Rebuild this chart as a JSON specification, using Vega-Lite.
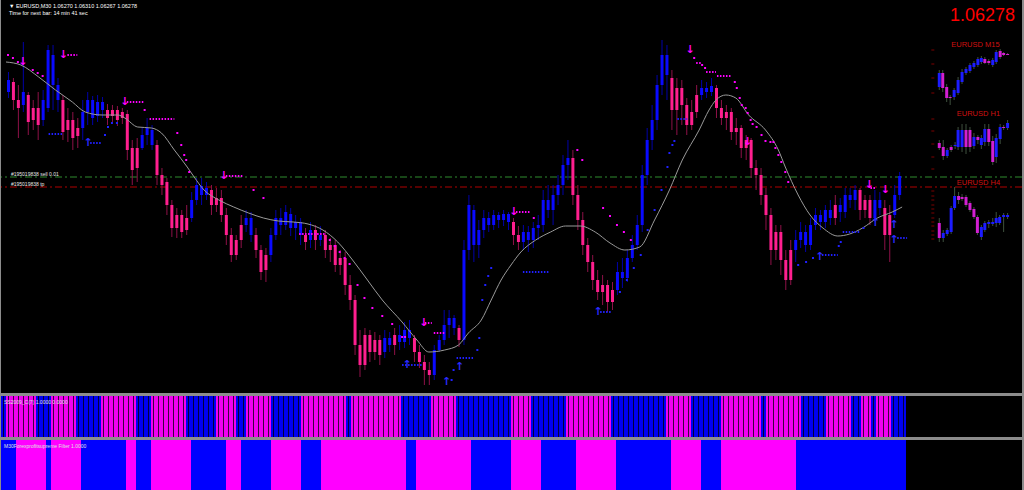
{
"$schema": "https://vega.github.io/schema/vega-lite/v6.json",
"background": "#8c8c8c",
"padding": {"left": 0, "top": 0, "right": 3, "bottom": 2},
"spacing": 2,
"config": {"view": {"stroke": null, "fill": "#000000"}, "font": "Liberation Sans"},
"resolve": {"scale": {"x": "independent", "y": "independent"}},
"datasets": {
"candles": [
{"n":0,"o":1.0712,"h":1.0732,"l":1.0706,"c":1.0724,"t":"u"},
{"n":1,"o":1.0722,"h":1.0726,"l":1.0694,"c":1.0704,"t":"d"},
{"n":2,"o":1.0704,"h":1.0719,"l":1.0666,"c":1.0696,"t":"d"},
{"n":3,"o":1.0699,"h":1.0762,"l":1.0692,"c":1.0712,"t":"u"},
{"n":4,"o":1.0709,"h":1.0712,"l":1.0669,"c":1.0682,"t":"d"},
{"n":5,"o":1.0684,"h":1.0704,"l":1.0674,"c":1.0696,"t":"d"},
{"n":6,"o":1.0696,"h":1.0712,"l":1.0664,"c":1.0679,"t":"d"},
{"n":7,"o":1.0684,"h":1.0714,"l":1.0678,"c":1.0704,"t":"u"},
{"n":8,"o":1.0696,"h":1.0759,"l":1.0692,"c":1.0754,"t":"u"},
{"n":9,"o":1.0749,"h":1.0759,"l":1.0694,"c":1.0719,"t":"u"},
{"n":10,"o":1.0719,"h":1.0726,"l":1.0692,"c":1.0704,"t":"u"},
{"n":11,"o":1.0704,"h":1.0709,"l":1.0664,"c":1.0672,"t":"d"},
{"n":12,"o":1.0674,"h":1.0696,"l":1.0662,"c":1.0684,"t":"d"},
{"n":13,"o":1.0684,"h":1.0692,"l":1.0654,"c":1.0666,"t":"d"},
{"n":14,"o":1.0668,"h":1.0686,"l":1.0656,"c":1.0676,"t":"d"},
{"n":15,"o":1.0676,"h":1.0704,"l":1.0664,"c":1.0692,"t":"u"},
{"n":16,"o":1.0692,"h":1.0712,"l":1.0679,"c":1.0704,"t":"u"},
{"n":17,"o":1.0704,"h":1.0708,"l":1.0679,"c":1.0686,"t":"u"},
{"n":18,"o":1.0688,"h":1.0709,"l":1.0682,"c":1.0702,"t":"u"},
{"n":19,"o":1.0702,"h":1.0707,"l":1.0686,"c":1.0694,"t":"u"},
{"n":20,"o":1.0694,"h":1.0700,"l":1.0679,"c":1.0686,"t":"d"},
{"n":21,"o":1.0688,"h":1.0699,"l":1.0682,"c":1.0694,"t":"d"},
{"n":22,"o":1.0694,"h":1.0698,"l":1.0678,"c":1.0684,"t":"d"},
{"n":23,"o":1.0686,"h":1.0696,"l":1.0680,"c":1.0692,"t":"d"},
{"n":24,"o":1.0690,"h":1.0694,"l":1.0644,"c":1.0654,"t":"d"},
{"n":25,"o":1.0656,"h":1.0664,"l":1.0619,"c":1.0634,"t":"d"},
{"n":26,"o":1.0636,"h":1.0666,"l":1.0622,"c":1.0656,"t":"d"},
{"n":27,"o":1.0656,"h":1.0677,"l":1.0654,"c":1.0669,"t":"u"},
{"n":28,"o":1.0669,"h":1.0686,"l":1.0659,"c":1.0676,"t":"u"},
{"n":29,"o":1.0674,"h":1.0679,"l":1.0654,"c":1.0659,"t":"u"},
{"n":30,"o":1.0659,"h":1.0664,"l":1.0619,"c":1.0629,"t":"d"},
{"n":31,"o":1.0629,"h":1.0636,"l":1.0609,"c":1.0619,"t":"d"},
{"n":32,"o":1.0622,"h":1.0626,"l":1.0589,"c":1.0599,"t":"d"},
{"n":33,"o":1.0599,"h":1.0604,"l":1.0567,"c":1.0576,"t":"d"},
{"n":34,"o":1.0576,"h":1.0596,"l":1.0566,"c":1.0589,"t":"d"},
{"n":35,"o":1.0589,"h":1.0594,"l":1.0566,"c":1.0572,"t":"d"},
{"n":36,"o":1.0574,"h":1.0599,"l":1.0569,"c":1.0586,"t":"d"},
{"n":37,"o":1.0586,"h":1.0612,"l":1.0582,"c":1.0604,"t":"u"},
{"n":38,"o":1.0604,"h":1.0626,"l":1.0599,"c":1.0619,"t":"u"},
{"n":39,"o":1.0618,"h":1.0626,"l":1.0599,"c":1.0609,"t":"u"},
{"n":40,"o":1.0609,"h":1.0622,"l":1.0604,"c":1.0616,"t":"u"},
{"n":41,"o":1.0614,"h":1.0619,"l":1.0589,"c":1.0599,"t":"d"},
{"n":42,"o":1.0599,"h":1.0616,"l":1.0592,"c":1.0606,"t":"d"},
{"n":43,"o":1.0606,"h":1.0614,"l":1.0582,"c":1.0589,"t":"d"},
{"n":44,"o":1.0589,"h":1.0596,"l":1.0559,"c":1.0569,"t":"d"},
{"n":45,"o":1.0569,"h":1.0576,"l":1.0542,"c":1.0549,"t":"d"},
{"n":46,"o":1.0549,"h":1.0569,"l":1.0544,"c":1.0564,"t":"d"},
{"n":47,"o":1.0564,"h":1.0589,"l":1.0556,"c":1.0579,"t":"d"},
{"n":48,"o":1.0579,"h":1.0594,"l":1.0572,"c":1.0586,"t":"u"},
{"n":49,"o":1.0586,"h":1.0592,"l":1.0562,"c":1.0569,"t":"u"},
{"n":50,"o":1.0569,"h":1.0576,"l":1.0546,"c":1.0554,"t":"d"},
{"n":51,"o":1.0554,"h":1.0559,"l":1.0524,"c":1.0532,"t":"d"},
{"n":52,"o":1.0534,"h":1.0556,"l":1.0522,"c":1.0549,"t":"d"},
{"n":53,"o":1.0549,"h":1.0576,"l":1.0542,"c":1.0569,"t":"u"},
{"n":54,"o":1.0569,"h":1.0594,"l":1.0564,"c":1.0586,"t":"u"},
{"n":55,"o":1.0586,"h":1.0596,"l":1.0569,"c":1.0579,"t":"u"},
{"n":56,"o":1.0579,"h":1.0599,"l":1.0574,"c":1.0592,"t":"u"},
{"n":57,"o":1.0590,"h":1.0596,"l":1.0568,"c":1.0576,"t":"u"},
{"n":58,"o":1.0576,"h":1.0589,"l":1.0564,"c":1.0582,"t":"u"},
{"n":59,"o":1.0582,"h":1.0586,"l":1.0559,"c":1.0569,"t":"u"},
{"n":60,"o":1.0569,"h":1.0576,"l":1.0554,"c":1.0562,"t":"d"},
{"n":61,"o":1.0564,"h":1.0582,"l":1.0556,"c":1.0574,"t":"u"},
{"n":62,"o":1.0574,"h":1.0579,"l":1.0554,"c":1.0564,"t":"d"},
{"n":63,"o":1.0564,"h":1.0578,"l":1.0558,"c":1.0569,"t":"u"},
{"n":64,"o":1.0569,"h":1.0574,"l":1.0546,"c":1.0554,"t":"d"},
{"n":65,"o":1.0554,"h":1.0566,"l":1.0542,"c":1.0559,"t":"d"},
{"n":66,"o":1.0559,"h":1.0564,"l":1.0532,"c":1.0539,"t":"d"},
{"n":67,"o":1.0539,"h":1.0554,"l":1.0529,"c":1.0546,"t":"d"},
{"n":68,"o":1.0546,"h":1.0552,"l":1.0509,"c":1.0519,"t":"d"},
{"n":69,"o":1.0519,"h":1.0529,"l":1.0494,"c":1.0504,"t":"d"},
{"n":70,"o":1.0504,"h":1.0509,"l":1.0449,"c":1.0459,"t":"d"},
{"n":71,"o":1.0459,"h":1.0474,"l":1.0427,"c":1.0439,"t":"d"},
{"n":72,"o":1.0439,"h":1.0476,"l":1.0434,"c":1.0469,"t":"d"},
{"n":73,"o":1.0469,"h":1.0474,"l":1.0442,"c":1.0452,"t":"d"},
{"n":74,"o":1.0452,"h":1.0472,"l":1.0444,"c":1.0464,"t":"d"},
{"n":75,"o":1.0464,"h":1.0469,"l":1.0439,"c":1.0449,"t":"d"},
{"n":76,"o":1.0452,"h":1.0474,"l":1.0446,"c":1.0466,"t":"u"},
{"n":77,"o":1.0466,"h":1.0472,"l":1.0452,"c":1.0459,"t":"u"},
{"n":78,"o":1.0459,"h":1.0476,"l":1.0449,"c":1.0469,"t":"d"},
{"n":79,"o":1.0469,"h":1.0479,"l":1.0454,"c":1.0462,"t":"u"},
{"n":80,"o":1.0462,"h":1.0482,"l":1.0456,"c":1.0474,"t":"u"},
{"n":81,"o":1.0474,"h":1.0484,"l":1.0459,"c":1.0466,"t":"u"},
{"n":82,"o":1.0466,"h":1.0469,"l":1.0442,"c":1.0452,"t":"d"},
{"n":83,"o":1.0452,"h":1.0459,"l":1.0436,"c":1.0442,"t":"d"},
{"n":84,"o":1.0442,"h":1.0449,"l":1.0419,"c":1.0434,"t":"d"},
{"n":85,"o":1.0434,"h":1.0442,"l":1.0419,"c":1.0429,"t":"d"},
{"n":86,"o":1.0429,"h":1.0459,"l":1.0424,"c":1.0454,"t":"u"},
{"n":87,"o":1.0454,"h":1.0469,"l":1.0452,"c":1.0464,"t":"u"},
{"n":88,"o":1.0464,"h":1.0494,"l":1.0459,"c":1.0479,"t":"u"},
{"n":89,"o":1.0479,"h":1.0494,"l":1.0466,"c":1.0486,"t":"u"},
{"n":90,"o":1.0486,"h":1.0489,"l":1.0469,"c":1.0476,"t":"u"},
{"n":91,"o":1.0476,"h":1.0479,"l":1.0457,"c":1.0464,"t":"d"},
{"n":92,"o":1.0464,"h":1.0564,"l":1.0459,"c":1.0554,"t":"u"},
{"n":93,"o":1.0554,"h":1.0609,"l":1.0544,"c":1.0599,"t":"u"},
{"n":94,"o":1.0594,"h":1.0599,"l":1.0542,"c":1.0559,"t":"u"},
{"n":95,"o":1.0559,"h":1.0584,"l":1.0546,"c":1.0574,"t":"u"},
{"n":96,"o":1.0574,"h":1.0594,"l":1.0566,"c":1.0586,"t":"u"},
{"n":97,"o":1.0586,"h":1.0592,"l":1.0572,"c":1.0579,"t":"u"},
{"n":98,"o":1.0579,"h":1.0594,"l":1.0574,"c":1.0589,"t":"u"},
{"n":99,"o":1.0589,"h":1.0592,"l":1.0576,"c":1.0584,"t":"u"},
{"n":100,"o":1.0584,"h":1.0594,"l":1.0578,"c":1.0590,"t":"u"},
{"n":101,"o":1.0590,"h":1.0592,"l":1.0574,"c":1.0582,"t":"u"},
{"n":102,"o":1.0582,"h":1.0586,"l":1.0559,"c":1.0569,"t":"d"},
{"n":103,"o":1.0569,"h":1.0578,"l":1.0554,"c":1.0562,"t":"d"},
{"n":104,"o":1.0562,"h":1.0579,"l":1.0554,"c":1.0572,"t":"u"},
{"n":105,"o":1.0572,"h":1.0578,"l":1.0552,"c":1.0564,"t":"u"},
{"n":106,"o":1.0564,"h":1.0582,"l":1.0556,"c":1.0576,"t":"u"},
{"n":107,"o":1.0576,"h":1.0589,"l":1.0564,"c":1.0579,"t":"u"},
{"n":108,"o":1.0579,"h":1.0614,"l":1.0572,"c":1.0604,"t":"u"},
{"n":109,"o":1.0604,"h":1.0619,"l":1.0586,"c":1.0594,"t":"u"},
{"n":110,"o":1.0594,"h":1.0619,"l":1.0579,"c":1.0609,"t":"u"},
{"n":111,"o":1.0609,"h":1.0629,"l":1.0599,"c":1.0619,"t":"u"},
{"n":112,"o":1.0619,"h":1.0649,"l":1.0609,"c":1.0639,"t":"u"},
{"n":113,"o":1.0639,"h":1.0664,"l":1.0624,"c":1.0646,"t":"u"},
{"n":114,"o":1.0646,"h":1.0654,"l":1.0599,"c":1.0609,"t":"d"},
{"n":115,"o":1.0609,"h":1.0619,"l":1.0574,"c":1.0584,"t":"d"},
{"n":116,"o":1.0584,"h":1.0592,"l":1.0549,"c":1.0559,"t":"d"},
{"n":117,"o":1.0559,"h":1.0566,"l":1.0532,"c":1.0542,"t":"d"},
{"n":118,"o":1.0542,"h":1.0549,"l":1.0514,"c":1.0524,"t":"d"},
{"n":119,"o":1.0524,"h":1.0534,"l":1.0504,"c":1.0512,"t":"d"},
{"n":120,"o":1.0512,"h":1.0529,"l":1.0499,"c":1.0519,"t":"d"},
{"n":121,"o":1.0519,"h":1.0524,"l":1.0492,"c":1.0502,"t":"d"},
{"n":122,"o":1.0502,"h":1.0522,"l":1.0494,"c":1.0514,"t":"d"},
{"n":123,"o":1.0514,"h":1.0542,"l":1.0509,"c":1.0532,"t":"u"},
{"n":124,"o":1.0532,"h":1.0546,"l":1.0516,"c":1.0526,"t":"u"},
{"n":125,"o":1.0526,"h":1.0554,"l":1.0522,"c":1.0546,"t":"u"},
{"n":126,"o":1.0546,"h":1.0569,"l":1.0542,"c":1.0559,"t":"u"},
{"n":127,"o":1.0559,"h":1.0589,"l":1.0554,"c":1.0579,"t":"u"},
{"n":128,"o":1.0579,"h":1.0639,"l":1.0572,"c":1.0629,"t":"u"},
{"n":129,"o":1.0629,"h":1.0676,"l":1.0619,"c":1.0664,"t":"u"},
{"n":130,"o":1.0664,"h":1.0699,"l":1.0654,"c":1.0684,"t":"u"},
{"n":131,"o":1.0684,"h":1.0729,"l":1.0674,"c":1.0719,"t":"u"},
{"n":132,"o":1.0719,"h":1.0764,"l":1.0709,"c":1.0749,"t":"u"},
{"n":133,"o":1.0749,"h":1.0759,"l":1.0704,"c":1.0729,"t":"u"},
{"n":134,"o":1.0726,"h":1.0734,"l":1.0674,"c":1.0694,"t":"d"},
{"n":135,"o":1.0694,"h":1.0726,"l":1.0669,"c":1.0716,"t":"d"},
{"n":136,"o":1.0716,"h":1.0724,"l":1.0679,"c":1.0699,"t":"d"},
{"n":137,"o":1.0699,"h":1.0706,"l":1.0669,"c":1.0679,"t":"d"},
{"n":138,"o":1.0679,"h":1.0704,"l":1.0674,"c":1.0692,"t":"d"},
{"n":139,"o":1.0692,"h":1.0719,"l":1.0686,"c":1.0709,"t":"d"},
{"n":140,"o":1.0709,"h":1.0724,"l":1.0704,"c":1.0716,"t":"u"},
{"n":141,"o":1.0716,"h":1.0722,"l":1.0706,"c":1.0712,"t":"u"},
{"n":142,"o":1.0712,"h":1.0726,"l":1.0708,"c":1.0718,"t":"u"},
{"n":143,"o":1.0716,"h":1.0719,"l":1.0686,"c":1.0696,"t":"d"},
{"n":144,"o":1.0696,"h":1.0704,"l":1.0679,"c":1.0686,"t":"d"},
{"n":145,"o":1.0686,"h":1.0699,"l":1.0674,"c":1.0692,"t":"d"},
{"n":146,"o":1.0692,"h":1.0696,"l":1.0664,"c":1.0672,"t":"d"},
{"n":147,"o":1.0672,"h":1.0686,"l":1.0659,"c":1.0676,"t":"d"},
{"n":148,"o":1.0676,"h":1.0679,"l":1.0646,"c":1.0656,"t":"d"},
{"n":149,"o":1.0656,"h":1.0669,"l":1.0644,"c":1.0664,"t":"d"},
{"n":150,"o":1.0664,"h":1.0666,"l":1.0626,"c":1.0636,"t":"d"},
{"n":151,"o":1.0636,"h":1.0644,"l":1.0614,"c":1.0629,"t":"d"},
{"n":152,"o":1.0629,"h":1.0636,"l":1.0599,"c":1.0609,"t":"d"},
{"n":153,"o":1.0609,"h":1.0616,"l":1.0574,"c":1.0589,"t":"d"},
{"n":154,"o":1.0589,"h":1.0596,"l":1.0539,"c":1.0554,"t":"d"},
{"n":155,"o":1.0554,"h":1.0579,"l":1.0544,"c":1.0572,"t":"d"},
{"n":156,"o":1.0572,"h":1.0579,"l":1.0529,"c":1.0544,"t":"d"},
{"n":157,"o":1.0544,"h":1.0554,"l":1.0514,"c":1.0524,"t":"d"},
{"n":158,"o":1.0524,"h":1.0564,"l":1.0519,"c":1.0554,"t":"d"},
{"n":159,"o":1.0554,"h":1.0574,"l":1.0542,"c":1.0564,"t":"u"},
{"n":160,"o":1.0564,"h":1.0582,"l":1.0556,"c":1.0572,"t":"u"},
{"n":161,"o":1.0572,"h":1.0579,"l":1.0552,"c":1.0559,"t":"u"},
{"n":162,"o":1.0559,"h":1.0586,"l":1.0554,"c":1.0579,"t":"u"},
{"n":163,"o":1.0579,"h":1.0596,"l":1.0574,"c":1.0589,"t":"u"},
{"n":164,"o":1.0589,"h":1.0594,"l":1.0574,"c":1.0582,"t":"u"},
{"n":165,"o":1.0582,"h":1.0599,"l":1.0576,"c":1.0594,"t":"u"},
{"n":166,"o":1.0594,"h":1.0604,"l":1.0579,"c":1.0586,"t":"u"},
{"n":167,"o":1.0586,"h":1.0609,"l":1.0579,"c":1.0599,"t":"d"},
{"n":168,"o":1.0599,"h":1.0606,"l":1.0582,"c":1.0592,"t":"u"},
{"n":169,"o":1.0592,"h":1.0616,"l":1.0586,"c":1.0609,"t":"u"},
{"n":170,"o":1.0609,"h":1.0616,"l":1.0596,"c":1.0604,"t":"u"},
{"n":171,"o":1.0604,"h":1.0619,"l":1.0594,"c":1.0614,"t":"u"},
{"n":172,"o":1.0614,"h":1.0616,"l":1.0584,"c":1.0594,"t":"d"},
{"n":173,"o":1.0594,"h":1.0609,"l":1.0586,"c":1.0604,"t":"d"},
{"n":174,"o":1.0604,"h":1.0609,"l":1.0579,"c":1.0586,"t":"d"},
{"n":175,"o":1.0586,"h":1.0614,"l":1.0582,"c":1.0604,"t":"u"},
{"n":176,"o":1.0604,"h":1.0612,"l":1.0589,"c":1.0596,"t":"u"},
{"n":177,"o":1.0596,"h":1.0604,"l":1.0554,"c":1.0569,"t":"d"},
{"n":178,"o":1.0569,"h":1.0599,"l":1.0542,"c":1.0589,"t":"d"},
{"n":179,"o":1.0589,"h":1.0619,"l":1.0586,"c":1.0609,"t":"u"},
{"n":180,"o":1.0609,"h":1.0632,"l":1.0604,"c":1.0628,"t":"u"}
],
"ma": [
{"n":-0.5,"v":1.0742},{"n":2.5,"v":1.0739},{"n":6.1,"v":1.0727},{"n":9.5,"v":1.0714},{"n":12.9,"v":1.0702},{"n":15.5,"v":1.0692},{"n":18.9,"v":1.0689},{"n":22.1,"v":1.0689},{"n":23.5,"v":1.0686},{"n":26.1,"v":1.0677},{"n":28.9,"v":1.0676},{"n":30.9,"v":1.0671},{"n":33.5,"v":1.0654},{"n":36.1,"v":1.0637},{"n":37.5,"v":1.0627},{"n":39.5,"v":1.0614},{"n":42.5,"v":1.0604},{"n":45.5,"v":1.0597},{"n":48.5,"v":1.0591},{"n":51.5,"v":1.0586},{"n":54.5,"v":1.0583},{"n":57.5,"v":1.0582},{"n":60.5,"v":1.0580},{"n":63.5,"v":1.0574},{"n":66.5,"v":1.0562},{"n":69.5,"v":1.0544},{"n":72.5,"v":1.0524},{"n":75.5,"v":1.0504},{"n":79.5,"v":1.0482},{"n":82.5,"v":1.0464},{"n":84.9,"v":1.0452},{"n":88.1,"v":1.0454},{"n":90.9,"v":1.0459},{"n":92.9,"v":1.0471},{"n":95.5,"v":1.0484},{"n":97.5,"v":1.0504},{"n":99.5,"v":1.0524},{"n":101.5,"v":1.0539},{"n":103.5,"v":1.0552},{"n":106.5,"v":1.0564},{"n":109.5,"v":1.0572},{"n":112.5,"v":1.0578},{"n":115.5,"v":1.0578},{"n":118.5,"v":1.0572},{"n":121.5,"v":1.0561},{"n":124.5,"v":1.0554},{"n":127.5,"v":1.0557},{"n":130.5,"v":1.0584},{"n":133.5,"v":1.0614},{"n":136.1,"v":1.0644},{"n":139.5,"v":1.0674},{"n":141.5,"v":1.0694},{"n":142.9,"v":1.0704},{"n":144.9,"v":1.0709},{"n":146.9,"v":1.0706},{"n":149.5,"v":1.0689},{"n":152.9,"v":1.0674},{"n":155.5,"v":1.0654},{"n":156.9,"v":1.0637},{"n":159.5,"v":1.0609},{"n":161.9,"v":1.0589},{"n":164.5,"v":1.0576},{"n":167.5,"v":1.0568},{"n":169.9,"v":1.0570},{"n":172.5,"v":1.0576},{"n":175.5,"v":1.0586},{"n":178.5,"v":1.0592},{"n":180.5,"v":1.0597}
],
"dots": [
{"n":-0.1,"p":1.0749,"d":"d"},{"n":0.9,"p":1.0746,"d":"d"},{"n":1.9,"p":1.0742,"d":"d"},{"n":4.9,"p":1.0734,"d":"d"},{"n":5.9,"p":1.0731,"d":"d"},{"n":6.9,"p":1.0728,"d":"d"},
{"n":27.5,"p":1.0694,"d":"d"},{"n":34.1,"p":1.0671,"d":"d"},{"n":34.9,"p":1.0659,"d":"d"},{"n":35.5,"p":1.0649,"d":"d"},{"n":35.9,"p":1.0644,"d":"d"},{"n":36.5,"p":1.0632,"d":"d"},
{"n":49.5,"p":1.0614,"d":"d"},{"n":51.5,"p":1.0606,"d":"d"},
{"n":64.9,"p":1.0564,"d":"d"},{"n":65.9,"p":1.0558,"d":"d"},{"n":66.9,"p":1.0552,"d":"d"},{"n":67.9,"p":1.0546,"d":"d"},{"n":68.9,"p":1.0540,"d":"d"},
{"n":70.5,"p":1.0519,"d":"d"},{"n":71.9,"p":1.0506,"d":"d"},{"n":73.5,"p":1.0496,"d":"d"},{"n":75.5,"p":1.0488,"d":"d"},{"n":77.5,"p":1.0480,"d":"d"},{"n":79.5,"p":1.0467,"d":"d"},{"n":80.1,"p":1.0467,"d":"d"},
{"n":106.1,"p":1.0586,"d":"d"},{"n":114.9,"p":1.0654,"d":"d"},{"n":115.9,"p":1.0644,"d":"d"},
{"n":120.1,"p":1.0596,"d":"d"},{"n":121.5,"p":1.0588,"d":"d"},{"n":122.9,"p":1.0579,"d":"d"},{"n":124.3,"p":1.0572,"d":"d"},{"n":125.7,"p":1.0564,"d":"d"},
{"n":138.5,"p":1.0746,"d":"d"},{"n":140.1,"p":1.0739,"d":"d"},{"n":140.7,"p":1.0736,"d":"d"},
{"n":146.7,"p":1.0722,"d":"d"},{"n":147.1,"p":1.0716,"d":"d"},{"n":147.7,"p":1.0706,"d":"d"},{"n":148.1,"p":1.0699,"d":"d"},{"n":148.9,"p":1.0696,"d":"d"},{"n":149.3,"p":1.0691,"d":"d"},{"n":149.9,"p":1.0684,"d":"d"},{"n":150.3,"p":1.0680,"d":"d"},{"n":151.1,"p":1.0677,"d":"d"},{"n":152.1,"p":1.0669,"d":"d"},{"n":152.9,"p":1.0663,"d":"d"},{"n":153.9,"p":1.0662,"d":"d"},{"n":154.5,"p":1.0662,"d":"d"},{"n":154.9,"p":1.0656,"d":"d"},{"n":155.5,"p":1.0649,"d":"d"},{"n":156.1,"p":1.0642,"d":"d"},{"n":156.9,"p":1.0632,"d":"d"},{"n":157.5,"p":1.0622,"d":"d"},
{"n":19.5,"p":1.0669,"d":"u"},{"n":20.1,"p":1.0677,"d":"u"},{"n":20.9,"p":1.0681,"d":"u"},{"n":21.9,"p":1.0681,"d":"u"},
{"n":89.5,"p":1.0424,"d":"u"},{"n":89.9,"p":1.0434,"d":"u"},{"n":94.7,"p":1.0454,"d":"u"},{"n":95.1,"p":1.0466,"d":"u"},{"n":95.7,"p":1.0504,"d":"u"},{"n":96.3,"p":1.0519,"d":"u"},{"n":96.9,"p":1.0528,"d":"u"},{"n":97.5,"p":1.0536,"d":"u"},
{"n":123.5,"p":1.0512,"d":"u"},{"n":124.9,"p":1.0524,"d":"u"},{"n":126.3,"p":1.0536,"d":"u"},{"n":127.7,"p":1.0549,"d":"u"},{"n":129.1,"p":1.0574,"d":"u"},{"n":130.5,"p":1.0594,"d":"u"},{"n":131.9,"p":1.0614,"d":"u"},{"n":133.1,"p":1.0637,"d":"u"},{"n":133.5,"p":1.0651,"d":"u"},{"n":134.1,"p":1.0659,"d":"u"},{"n":134.5,"p":1.0663,"d":"u"},
{"n":159.5,"p":1.0539,"d":"u"},{"n":161.1,"p":1.0542,"d":"u"},{"n":162.5,"p":1.0546,"d":"u"},{"n":167.7,"p":1.0558,"d":"u"},{"n":168.1,"p":1.0562,"d":"u"},{"n":172.7,"p":1.0576,"d":"u"}
],
"trails": [
{"n":11.9,"n2":13.9,"p":1.0749,"d":"d"},{"n":23.9,"n2":27.5,"p":1.0702,"d":"d"},{"n":28.5,"n2":33.5,"p":1.0685,"d":"d"},{"n":43.9,"n2":47.5,"p":1.0628,"d":"d"},{"n":58.7,"n2":63.9,"p":1.0570,"d":"d"},{"n":84.1,"n2":85.5,"p":1.0481,"d":"d"},{"n":85.9,"n2":88.1,"p":1.0471,"d":"d"},{"n":102.5,"n2":105.5,"p":1.0592,"d":"d"},{"n":138.9,"n2":139.9,"p":1.0741,"d":"d"},{"n":140.9,"n2":142.9,"p":1.0732,"d":"d"},{"n":143.1,"n2":146.1,"p":1.0728,"d":"d"},{"n":174.1,"n2":175.1,"p":1.0616,"d":"d"},
{"n":8.1,"n2":10.9,"p":1.0670,"d":"u"},{"n":16.5,"n2":18.9,"p":1.0661,"d":"u"},{"n":79.5,"n2":83.5,"p":1.0439,"d":"u"},{"n":90.5,"n2":94.1,"p":1.0446,"d":"u"},{"n":103.9,"n2":109.1,"p":1.0532,"d":"u"},{"n":119.5,"n2":121.9,"p":1.0492,"d":"u"},{"n":135.1,"n2":137.1,"p":1.0685,"d":"u"},{"n":164.3,"n2":167.5,"p":1.0549,"d":"u"},{"n":168.5,"n2":172.1,"p":1.0572,"d":"u"},{"n":179.5,"n2":181.5,"p":1.0566,"d":"u"}
],
"arrows": [
{"n":2.9,"p":1.0742,"d":"d"},{"n":11.1,"p":1.0749,"d":"d"},{"n":23.5,"p":1.0702,"d":"d"},{"n":43.5,"p":1.0628,"d":"d"},{"n":83.9,"p":1.0481,"d":"d"},{"n":102.1,"p":1.0592,"d":"d"},{"n":137.7,"p":1.0754,"d":"d"},{"n":149.3,"p":1.0662,"d":"d"},{"n":173.9,"p":1.0619,"d":"d"},{"n":177.1,"p":1.0614,"d":"d"},
{"n":16.1,"p":1.0661,"d":"u"},{"n":80.5,"p":1.0439,"d":"u"},{"n":88.5,"p":1.0422,"d":"u"},{"n":91.1,"p":1.0437,"d":"u"},{"n":119.1,"p":1.0492,"d":"u"},{"n":163.9,"p":1.0547,"d":"u"},{"n":175.1,"p":1.0581,"d":"u"},{"n":178.9,"p":1.0579,"d":"u"},{"n":178.9,"p":1.0564,"d":"u"}
],
"mini": [
{"tf":"M15","n":188.0,"o":1.0717,"h":1.0734,"l":1.0714,"c":1.0731,"t":"u"},
{"tf":"M15","n":188.7,"o":1.0731,"h":1.0734,"l":1.0712,"c":1.0716,"t":"d"},
{"tf":"M15","n":189.5,"o":1.0717,"h":1.0720,"l":1.0702,"c":1.0706,"t":"d"},
{"tf":"M15","n":190.2,"o":1.0707,"h":1.0709,"l":1.0699,"c":1.0706,"t":"d"},
{"tf":"M15","n":191.0,"o":1.0707,"h":1.0716,"l":1.0704,"c":1.0714,"t":"u"},
{"tf":"M15","n":191.8,"o":1.0711,"h":1.0727,"l":1.0709,"c":1.0724,"t":"u"},
{"tf":"M15","n":192.6,"o":1.0722,"h":1.0735,"l":1.0720,"c":1.0732,"t":"u"},
{"tf":"M15","n":193.4,"o":1.0731,"h":1.0737,"l":1.0729,"c":1.0735,"t":"u"},
{"tf":"M15","n":194.2,"o":1.0733,"h":1.0741,"l":1.0731,"c":1.0739,"t":"u"},
{"tf":"M15","n":195.0,"o":1.0737,"h":1.0743,"l":1.0735,"c":1.0741,"t":"u"},
{"tf":"M15","n":195.8,"o":1.0739,"h":1.0747,"l":1.0737,"c":1.0745,"t":"u"},
{"tf":"M15","n":196.5,"o":1.0742,"h":1.0748,"l":1.0740,"c":1.0746,"t":"u"},
{"tf":"M15","n":197.2,"o":1.0745,"h":1.0747,"l":1.0740,"c":1.0741,"t":"d"},
{"tf":"M15","n":198.0,"o":1.0743,"h":1.0745,"l":1.0739,"c":1.0741,"t":"d"},
{"tf":"M15","n":198.8,"o":1.0739,"h":1.0746,"l":1.0737,"c":1.0744,"t":"u"},
{"tf":"M15","n":199.5,"o":1.0742,"h":1.0754,"l":1.0740,"c":1.0752,"t":"u"},
{"tf":"M15","n":200.3,"o":1.0753,"h":1.0755,"l":1.0745,"c":1.0747,"t":"d"},
{"tf":"M15","n":201.0,"o":1.0751,"h":1.0752,"l":1.0748,"c":1.0749,"t":"d"},
{"tf":"M15","n":201.8,"o":1.0750,"h":1.0751,"l":1.0749,"c":1.0749,"t":"d"},
{"tf":"H1","n":188.0,"o":1.0661,"h":1.0664,"l":1.0654,"c":1.0656,"t":"d"},
{"tf":"H1","n":188.8,"o":1.0657,"h":1.0664,"l":1.0644,"c":1.0648,"t":"d"},
{"tf":"H1","n":189.6,"o":1.0648,"h":1.0656,"l":1.0646,"c":1.0654,"t":"u"},
{"tf":"H1","n":190.4,"o":1.0657,"h":1.0659,"l":1.0652,"c":1.0654,"t":"d"},
{"tf":"H1","n":191.2,"o":1.0658,"h":1.0662,"l":1.0655,"c":1.0659,"t":"u"},
{"tf":"H1","n":191.8,"o":1.0657,"h":1.0677,"l":1.0654,"c":1.0674,"t":"u"},
{"tf":"H1","n":192.6,"o":1.0657,"h":1.0680,"l":1.0652,"c":1.0674,"t":"u"},
{"tf":"H1","n":193.4,"o":1.0674,"h":1.0680,"l":1.0650,"c":1.0657,"t":"d"},
{"tf":"H1","n":194.2,"o":1.0674,"h":1.0677,"l":1.0652,"c":1.0657,"t":"d"},
{"tf":"H1","n":195.0,"o":1.0658,"h":1.0671,"l":1.0655,"c":1.0667,"t":"u"},
{"tf":"H1","n":195.8,"o":1.0667,"h":1.0669,"l":1.0660,"c":1.0664,"t":"d"},
{"tf":"H1","n":196.5,"o":1.0659,"h":1.0669,"l":1.0655,"c":1.0666,"t":"u"},
{"tf":"H1","n":197.2,"o":1.0662,"h":1.0680,"l":1.0658,"c":1.0675,"t":"u"},
{"tf":"H1","n":198.0,"o":1.0675,"h":1.0680,"l":1.0658,"c":1.0662,"t":"d"},
{"tf":"H1","n":198.8,"o":1.0663,"h":1.0668,"l":1.0639,"c":1.0642,"t":"d"},
{"tf":"H1","n":199.5,"o":1.0647,"h":1.0670,"l":1.0641,"c":1.0666,"t":"u"},
{"tf":"H1","n":200.3,"o":1.0665,"h":1.0680,"l":1.0660,"c":1.0677,"t":"u"},
{"tf":"H1","n":201.0,"o":1.0677,"h":1.0679,"l":1.0674,"c":1.0676,"t":"d"},
{"tf":"H1","n":201.8,"o":1.0676,"h":1.0684,"l":1.0674,"c":1.0681,"t":"u"},
{"tf":"H4","n":188.0,"o":1.0581,"h":1.0586,"l":1.0562,"c":1.0566,"t":"d"},
{"tf":"H4","n":188.8,"o":1.0566,"h":1.0574,"l":1.0562,"c":1.0571,"t":"u"},
{"tf":"H4","n":189.6,"o":1.0570,"h":1.0576,"l":1.0568,"c":1.0574,"t":"u"},
{"tf":"H4","n":190.4,"o":1.0572,"h":1.0598,"l":1.0570,"c":1.0596,"t":"u"},
{"tf":"H4","n":191.1,"o":1.0596,"h":1.0617,"l":1.0594,"c":1.0608,"t":"u"},
{"tf":"H4","n":191.9,"o":1.0608,"h":1.0612,"l":1.0600,"c":1.0604,"t":"d"},
{"tf":"H4","n":192.6,"o":1.0607,"h":1.0610,"l":1.0603,"c":1.0605,"t":"d"},
{"tf":"H4","n":193.4,"o":1.0607,"h":1.0609,"l":1.0597,"c":1.0599,"t":"d"},
{"tf":"H4","n":194.2,"o":1.0601,"h":1.0603,"l":1.0592,"c":1.0594,"t":"d"},
{"tf":"H4","n":195.0,"o":1.0595,"h":1.0597,"l":1.0585,"c":1.0587,"t":"d"},
{"tf":"H4","n":195.7,"o":1.0587,"h":1.0589,"l":1.0569,"c":1.0571,"t":"d"},
{"tf":"H4","n":196.5,"o":1.0567,"h":1.0579,"l":1.0564,"c":1.0577,"t":"u"},
{"tf":"H4","n":197.2,"o":1.0574,"h":1.0583,"l":1.0572,"c":1.0581,"t":"u"},
{"tf":"H4","n":198.0,"o":1.0580,"h":1.0584,"l":1.0576,"c":1.0582,"t":"u"},
{"tf":"H4","n":198.8,"o":1.0580,"h":1.0586,"l":1.0578,"c":1.0582,"t":"u"},
{"tf":"H4","n":199.5,"o":1.0581,"h":1.0592,"l":1.0577,"c":1.0586,"t":"u"},
{"tf":"H4","n":200.2,"o":1.0581,"h":1.0589,"l":1.0579,"c":1.0587,"t":"u"},
{"tf":"H4","n":201.0,"o":1.0587,"h":1.0591,"l":1.0572,"c":1.0589,"t":"u"},
{"tf":"H4","n":201.8,"o":1.0587,"h":1.0591,"l":1.0585,"c":1.0589,"t":"u"}
],
"miniticks": [
{"n":186.7,"p":1.0754},{"n":186.7,"p":1.0740},{"n":186.7,"p":1.0726},{"n":186.7,"p":1.0711},
{"n":186.7,"p":1.0685},{"n":186.7,"p":1.0673},{"n":186.7,"p":1.0660},{"n":186.7,"p":1.0647},{"n":186.7,"p":1.0635},
{"n":186.7,"p":1.0613},{"n":186.7,"p":1.0608},{"n":186.7,"p":1.0604},{"n":186.7,"p":1.0599},{"n":186.7,"p":1.0595},{"n":186.7,"p":1.0591},{"n":186.7,"p":1.0586},{"n":186.7,"p":1.0582},{"n":186.7,"p":1.0578},{"n":186.7,"p":1.0573},{"n":186.7,"p":1.0569},{"n":186.7,"p":1.0565}
],
"ss": [
{"a":-0.5,"b":180.5,"k":"u"},
{"a":0.5,"b":6.5,"k":"d"},{"a":9.5,"b":14.5,"k":"d"},{"a":19.5,"b":26.5,"k":"d"},{"a":29.5,"b":36.5,"k":"d"},{"a":42.5,"b":46.5,"k":"d"},{"a":48.5,"b":53.5,"k":"d"},{"a":59.5,"b":68.5,"k":"d"},{"a":69.5,"b":79.5,"k":"d"},{"a":85.5,"b":90.5,"k":"d"},{"a":101.5,"b":105.5,"k":"d"},{"a":112.5,"b":121.5,"k":"d"},{"a":132.5,"b":137.5,"k":"d"},{"a":143.5,"b":151.5,"k":"d"},{"a":152.5,"b":159.5,"k":"d"},{"a":164.5,"b":169.5,"k":"d"},{"a":171.5,"b":173.5,"k":"d"},{"a":174.5,"b":177.5,"k":"d"}
],
"filter": [
{"a":-0.5,"b":180.5,"k":"u"},
{"a":2.5,"b":8.5,"k":"d"},{"a":9.5,"b":15.5,"k":"d"},{"a":24.5,"b":26.5,"k":"d"},{"a":29.5,"b":37.5,"k":"d"},{"a":44.5,"b":47.5,"k":"d"},{"a":53.5,"b":59.5,"k":"d"},{"a":63.5,"b":80.5,"k":"d"},{"a":82.5,"b":93.5,"k":"d"},{"a":101.5,"b":107.5,"k":"d"},{"a":114.5,"b":122.5,"k":"d"},{"a":133.5,"b":139.5,"k":"d"},{"a":143.5,"b":158.5,"k":"d"}
]
},
"vconcat": [
{
"width": 1021, "height": 393,
"layer": [
{"data": {"values": [{"p":1.0627,"k":"g"},{"p":1.0617,"k":"r"}]},
 "mark": {"type": "rule", "strokeWidth": 1, "strokeDash": [7,3,2,3]},
 "encoding": {
  "y": {"field":"p","type":"quantitative","scale":{"domain":[1.0411,1.0804],"nice":false,"zero":false},"axis":null},
  "color": {"condition": {"test": "datum.k === 'g'", "value": "#2e8b2e"}, "value": "#b00000"}}},
{"data": {"name": "candles"},
 "mark": {"type": "rule", "strokeWidth": 1},
 "encoding": {
  "x": {"field":"n","type":"quantitative","scale":{"domain":[-0.5,203.7],"nice":false,"zero":false},"axis":null},
  "y": {"field":"l","type":"quantitative","scale":{"domain":[1.0411,1.0804],"nice":false,"zero":false},"axis":null},
  "y2": {"field":"h"},
  "color": {"condition": {"test": "datum.t === 'd'", "value": "#8e1148"}, "value": "#0000a8"}}},
{"data": {"name": "candles"},
 "mark": {"type": "bar", "width": 3},
 "encoding": {
  "x": {"field":"n","type":"quantitative","scale":{"domain":[-0.5,203.7],"nice":false,"zero":false},"axis":null},
  "y": {"field":"o","type":"quantitative","scale":{"domain":[1.0411,1.0804],"nice":false,"zero":false},"axis":null},
  "y2": {"field":"c"},
  "color": {"condition": {"test": "datum.t === 'd'", "value": "#ff1f8f"}, "value": "#0a0aff"}}},
{"data": {"name": "ma"},
 "mark": {"type": "line", "color": "#9a9a9a", "strokeWidth": 1, "interpolate": "monotone"},
 "encoding": {
  "x": {"field":"n","type":"quantitative","scale":{"domain":[-0.5,203.7],"nice":false,"zero":false},"axis":null},
  "y": {"field":"v","type":"quantitative","scale":{"domain":[1.0411,1.0804],"nice":false,"zero":false},"axis":null}}},
{"data": {"name": "dots"},
 "mark": {"type": "point", "shape": "square", "size": 4, "filled": true, "opacity": 1},
 "encoding": {
  "x": {"field":"n","type":"quantitative","scale":{"domain":[-0.5,203.7],"nice":false,"zero":false},"axis":null},
  "y": {"field":"p","type":"quantitative","scale":{"domain":[1.0411,1.0804],"nice":false,"zero":false},"axis":null},
  "color": {"condition": {"test": "datum.d === 'd'", "value": "#ff00ff"}, "value": "#2020ff"}}},
{"data": {"name": "trails"},
 "mark": {"type": "rule", "strokeWidth": 2, "strokeDash": [1.5,1.5]},
 "encoding": {
  "x": {"field":"n","type":"quantitative","scale":{"domain":[-0.5,203.7],"nice":false,"zero":false},"axis":null},
  "x2": {"field":"n2"},
  "y": {"field":"p","type":"quantitative","scale":{"domain":[1.0411,1.0804],"nice":false,"zero":false},"axis":null},
  "color": {"condition": {"test": "datum.d === 'd'", "value": "#ff00ff"}, "value": "#2020ff"}}},
{"data": {"name": "arrows"},
 "mark": {"type": "text", "font": "DejaVu Sans", "fontSize": 11, "fontWeight": "bold", "align": "center", "baseline": "middle"},
 "encoding": {
  "x": {"field":"n","type":"quantitative","scale":{"domain":[-0.5,203.7],"nice":false,"zero":false},"axis":null},
  "y": {"field":"p","type":"quantitative","scale":{"domain":[1.0411,1.0804],"nice":false,"zero":false},"axis":null},
  "text": {"condition": {"test": "datum.d === 'd'", "value": "↓"}, "value": "↑"},
  "color": {"condition": {"test": "datum.d === 'd'", "value": "#ff00ff"}, "value": "#2a2aff"}}},
{"data": {"name": "mini"},
 "mark": {"type": "rule", "strokeWidth": 1, "color": "#3e503e"},
 "encoding": {
  "x": {"field":"n","type":"quantitative","scale":{"domain":[-0.5,203.7],"nice":false,"zero":false},"axis":null},
  "y": {"field":"l","type":"quantitative","scale":{"domain":[1.0411,1.0804],"nice":false,"zero":false},"axis":null},
  "y2": {"field":"h"}}},
{"data": {"name": "mini"},
 "mark": {"type": "bar", "width": 3},
 "encoding": {
  "x": {"field":"n","type":"quantitative","scale":{"domain":[-0.5,203.7],"nice":false,"zero":false},"axis":null},
  "y": {"field":"o","type":"quantitative","scale":{"domain":[1.0411,1.0804],"nice":false,"zero":false},"axis":null},
  "y2": {"field":"c"},
  "color": {"condition": {"test": "datum.t === 'd'", "value": "#d21fd2"}, "value": "#1c1cff"}}},
{"data": {"name": "miniticks"},
 "mark": {"type": "tick", "orient": "horizontal", "size": 3, "thickness": 1, "color": "#b00000"},
 "encoding": {
  "x": {"field":"n","type":"quantitative","scale":{"domain":[-0.5,203.7],"nice":false,"zero":false},"axis":null},
  "y": {"field":"p","type":"quantitative","scale":{"domain":[1.0411,1.0804],"nice":false,"zero":false},"axis":null}}},
{"data": {"values": [{"n":0.1,"p":1.07985,"s":"▼ EURUSD,M30  1.06270 1.06310 1.06267 1.06278"},{"n":0.1,"p":1.0791,"s":"Time for next bar: 14 min 41 sec"}]},
 "mark": {"type": "text", "align": "left", "baseline": "middle", "fontSize": 5.5, "color": "#ffffff"},
 "encoding": {
  "x": {"field":"n","type":"quantitative","scale":{"domain":[-0.5,203.7],"nice":false,"zero":false},"axis":null},
  "y": {"field":"p","type":"quantitative","scale":{"domain":[1.0411,1.0804],"nice":false,"zero":false},"axis":null},
  "text": {"field":"s"}}},
{"data": {"values": [{"n":0.5,"p":1.0630,"s":"#195019838 sell 0.01"},{"n":0.5,"p":1.0620,"s":"#195019838 tp"}]},
 "mark": {"type": "text", "align": "left", "baseline": "middle", "fontSize": 5, "color": "#e8e8e8"},
 "encoding": {
  "x": {"field":"n","type":"quantitative","scale":{"domain":[-0.5,203.7],"nice":false,"zero":false},"axis":null},
  "y": {"field":"p","type":"quantitative","scale":{"domain":[1.0411,1.0804],"nice":false,"zero":false},"axis":null},
  "text": {"field":"s"}}},
{"data": {"values": [{"n":195.3,"p":1.0759,"s":"EURUSD M15"},{"n":195.9,"p":1.0690,"s":"EURUSD H1"},{"n":195.9,"p":1.0621,"s":"EURUSD H4"}]},
 "mark": {"type": "text", "align": "center", "baseline": "middle", "fontSize": 7.5, "color": "#d01010"},
 "encoding": {
  "x": {"field":"n","type":"quantitative","scale":{"domain":[-0.5,203.7],"nice":false,"zero":false},"axis":null},
  "y": {"field":"p","type":"quantitative","scale":{"domain":[1.0411,1.0804],"nice":false,"zero":false},"axis":null},
  "text": {"field":"s"}}},
{"data": {"values": [{"n":203.3,"p":1.07835,"s":"1.06278"}]},
 "mark": {"type": "text", "align": "right", "baseline": "alphabetic", "fontSize": 18, "color": "#ff0000"},
 "encoding": {
  "x": {"field":"n","type":"quantitative","scale":{"domain":[-0.5,203.7],"nice":false,"zero":false},"axis":null},
  "y": {"field":"p","type":"quantitative","scale":{"domain":[1.0411,1.0804],"nice":false,"zero":false},"axis":null},
  "text": {"field":"s"}}}
]
},
{
"width": 1021, "height": 41,
"layer": [
{"data": {"name": "ss"},
 "mark": {"type": "rect"},
 "encoding": {
  "x": {"field":"a","type":"quantitative","scale":{"domain":[-0.5,203.7],"nice":false,"zero":false},"axis":null},
  "x2": {"field":"b"},
  "y": {"datum":0,"type":"quantitative","scale":{"domain":[0,1],"nice":false},"axis":null},
  "y2": {"datum":1},
  "color": {"condition": {"test": "datum.k === 'd'", "value": "#f000f0"}, "value": "#0000f0"}}},
{"data": {"name": "candles"},
 "mark": {"type": "rule", "strokeWidth": 1, "color": "#000000", "opacity": 0.75},
 "encoding": {
  "x": {"field":"n","type":"quantitative","scale":{"domain":[-0.5,203.7],"nice":false,"zero":false},"axis":null},
  "y": {"datum":0,"type":"quantitative","scale":{"domain":[0,1],"nice":false},"axis":null},
  "y2": {"datum":1}}},
{"data": {"values": [{"n":0.1,"s":"SS2009_C(7) 1.0000 0.0000"}]},
 "mark": {"type": "text", "align": "left", "baseline": "middle", "fontSize": 5, "color": "#e0e0e0"},
 "encoding": {
  "x": {"field":"n","type":"quantitative","scale":{"domain":[-0.5,203.7],"nice":false,"zero":false},"axis":null},
  "y": {"datum":0.86,"type":"quantitative","scale":{"domain":[0,1],"nice":false},"axis":null},
  "text": {"field":"s"}}}
]
},
{
"width": 1021, "height": 50,
"layer": [
{"data": {"name": "filter"},
 "mark": {"type": "rect"},
 "encoding": {
  "x": {"field":"a","type":"quantitative","scale":{"domain":[-0.5,203.7],"nice":false,"zero":false},"axis":null},
  "x2": {"field":"b"},
  "y": {"datum":0,"type":"quantitative","scale":{"domain":[0,1],"nice":false},"axis":null},
  "y2": {"datum":1},
  "color": {"condition": {"test": "datum.k === 'd'", "value": "#ff00ff"}, "value": "#0000ff"}}},
{"data": {"values": [{"n":0.1,"s":"M30Forexprofitsupreme Filter 1.0000"}]},
 "mark": {"type": "text", "align": "left", "baseline": "middle", "fontSize": 5, "color": "#e0e0e0"},
 "encoding": {
  "x": {"field":"n","type":"quantitative","scale":{"domain":[-0.5,203.7],"nice":false,"zero":false},"axis":null},
  "y": {"datum":0.88,"type":"quantitative","scale":{"domain":[0,1],"nice":false},"axis":null},
  "text": {"field":"s"}}}
]
}
]
}
